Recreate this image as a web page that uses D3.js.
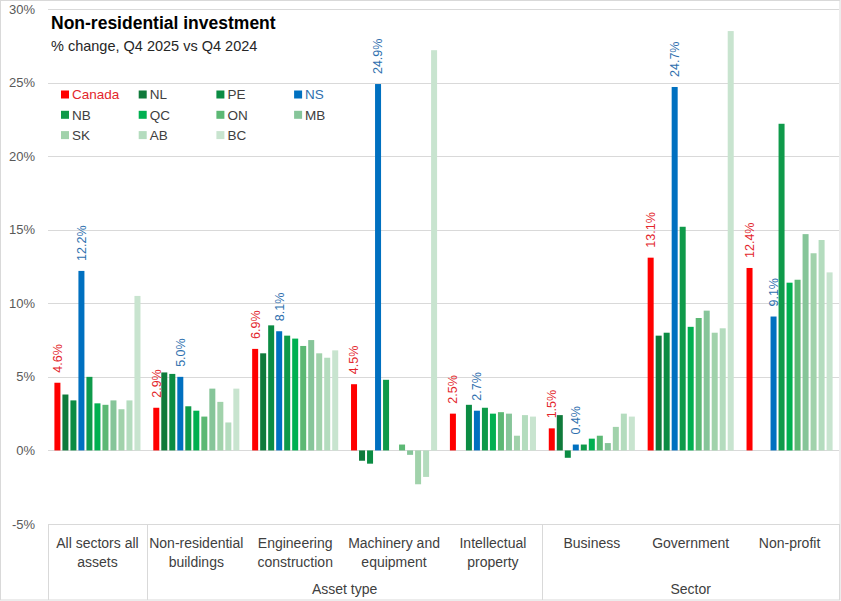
<!DOCTYPE html>
<html>
<head>
<meta charset="utf-8">
<script src="https://cdn.jsdelivr.net/npm/d3@7"></script>
<style>
  body { margin: 0; background: #fff; }
  svg { display: block; }
</style>
</head>
<body>
<svg id="chart"></svg>
<script>
// categories (two lines each, as shown under the axis)
const categories = ['All sectors all assets', 'Non-residential buildings', 'Engineering construction',
                    'Machinery and equipment', 'Intellectual property', 'Business', 'Government', 'Non-profit']
const category_lines = [['All sectors all', 'assets'], ['Non-residential', 'buildings'], ['Engineering', 'construction'],
                        ['Machinery and', 'equipment'], ['Intellectual', 'property'], ['Business'], ['Government'], ['Non-profit']]
// outer grouping of categories
const group_names = ['Asset type', 'Sector']
const group_first = [1, 5]
const group_last = [4, 7]

const series = ['Canada', 'NL', 'PE', 'NS', 'NB', 'QC', 'ON', 'MB', 'SK', 'AB', 'BC']
// % change, Q4 2025 vs Q4 2024, one value per category (null = no bar)
const canada = [4.6, 2.9, 6.9, 4.5, 2.5, 1.5, 13.1, 12.4]
const nl = [3.8, 5.3, 6.6, -0.7, null, 2.4, 7.8, null]
const pe = [3.4, 5.2, 8.5, -0.9, 3.1, -0.5, 8.0, null]
const ns = [12.2, 5.0, 8.1, 24.9, 2.7, 0.4, 24.7, 9.1]
const nb = [5.0, 3.0, 7.8, 4.8, 2.9, 0.4, 15.2, 22.2]
const qc = [3.2, 2.7, 7.6, null, 2.5, 0.8, 8.4, 11.4]
const on = [3.1, 2.3, 7.1, 0.4, 2.6, 1.0, 9.0, 11.6]
const mb = [3.4, 4.2, 7.5, -0.3, 2.5, 0.5, 9.5, 14.7]
const sk = [2.8, 3.3, 6.6, -2.3, 1.0, 1.6, 8.0, 13.4]
const ab = [3.4, 1.9, 6.3, -1.8, 2.4, 2.5, 8.3, 14.3]
const bc = [10.5, 4.2, 6.8, 27.2, 2.3, 2.3, 28.5, 12.1]
const y_ticks = [30, 25, 20, 15, 10, 5, 0, -5]

const values = [canada, nl, pe, ns, nb, qc, on, mb, sk, ab, bc]
const colors = ['#ff0000', '#0f7a3b', '#0b8c43', '#0070c0', '#0f9a4a', '#00b050',
                '#5cb874', '#86c599', '#a1d2ab', '#b4dcbe', '#c8e4cf']
// only these series get value labels
const labelled = {'Canada': '#e3262c', 'NS': '#2e6fae'}

const width = 841, height = 601
const plot_left = 48, plot_right = 839, plot_top = 9, plot_bottom = 524
const font = "'Liberation Sans', Arial, sans-serif"
const narrow = "'Liberation Sans Narrow', 'Liberation Sans', Arial, sans-serif"

const svg = d3.select('#chart')
              .attr('width', width)
              .attr('height', height)
              .attr('font-family', font)

// chart border
svg.append('rect')
   .attr('x', 0.5).attr('y', 0.5)
   .attr('width', width - 1.5).attr('height', height - 1.5)
   .attr('fill', '#fff')
   .attr('stroke', '#d9d9d9')

const y = d3.scaleLinear([-5, 30], [plot_bottom, plot_top])
const x0 = d3.scaleBand(categories, [plot_left, plot_right])
const x1 = d3.scaleBand(series, [0, x0.bandwidth()]).paddingInner(0.25).paddingOuter(0.8)

// gridlines + y labels
svg.append('g')
   .selectAll('line')
   .data(y_ticks)
   .join('line')
     .attr('x1', plot_left).attr('x2', plot_right)
     .attr('y1', d => Math.round(y(d)) + 0.5)
     .attr('y2', d => Math.round(y(d)) + 0.5)
     .attr('stroke', '#d9d9d9')
svg.append('g')
   .selectAll('text')
   .data(y_ticks)
   .join('text')
     .attr('x', 35)
     .attr('y', d => y(d))
     .attr('dy', '0.35em')
     .attr('text-anchor', 'end')
     .attr('font-size', 13)
     .attr('fill', '#595959')
     .text(d => `${d}%`)

// bars
const bar_rows = series.map((s, i) => categories.map((c, j) => ({s: s, c: c, v: values[i][j], color: colors[i]})))
                       .flat()
                       .filter(d => d.v !== null)
svg.append('g')
   .selectAll('rect')
   .data(bar_rows)
   .join('rect')
     .attr('x', d => x0(d.c) + x1(d.s))
     .attr('width', x1.bandwidth())
     .attr('y', d => y(Math.max(0, d.v)))
     .attr('height', d => Math.abs(y(d.v) - y(0)))
     .attr('fill', d => d.color)

// value labels, rotated, above Canada and NS bars
svg.append('g')
   .selectAll('text')
   .data(bar_rows.filter(d => labelled[d.s]))
   .join('text')
     .attr('transform', d => `translate(${x0(d.c) + x1(d.s) + x1.bandwidth() / 2},${y(d.v) - 10}) rotate(-90)`)
     .attr('dy', '0.35em')
     .attr('font-size', 12.5)
     .attr('fill', d => labelled[d.s])
     .text(d => `${d3.format('.1f')(d.v)}%`)

// category axis: separators, labels, group labels
const separators = [x0(categories[0]), x0(categories[group_first[0]]), x0(categories[group_first[1]]), plot_right]
svg.append('g')
   .selectAll('line')
   .data(separators)
   .join('line')
     .attr('x1', d => Math.round(d) + 0.5).attr('x2', d => Math.round(d) + 0.5)
     .attr('y1', plot_bottom).attr('y2', height - 1)
     .attr('stroke', '#d9d9d9')

const cat_labels = svg.append('g')
   .attr('font-family', narrow)
   .attr('font-size', 14)
   .attr('fill', '#404040')
   .attr('text-anchor', 'middle')
   .selectAll('text')
   .data(categories)
   .join('text')
     .attr('x', d => x0(d) + x0.bandwidth() / 2)
     .attr('y', 548)
cat_labels.selectAll('tspan')
   .data((d, i) => category_lines[i])
   .join('tspan')
     .attr('x', function() { return this.parentNode.getAttribute('x') })
     .attr('dy', (d, i) => i ? 19 : 0)
     .text(d => d)

svg.append('g')
   .attr('font-family', narrow)
   .attr('font-size', 14)
   .attr('fill', '#404040')
   .attr('text-anchor', 'middle')
   .selectAll('text')
   .data(group_names)
   .join('text')
     .attr('x', (d, i) => (x0(categories[group_first[i]]) + x0(categories[group_last[i]]) + x0.bandwidth()) / 2)
     .attr('y', 594)
     .text(d => d)

// title
svg.append('text')
   .attr('x', 51).attr('y', 29)
   .attr('font-size', 17.5)
   .attr('font-weight', 'bold')
   .attr('fill', '#000')
   .text('Non-residential investment')
svg.append('text')
   .attr('x', 51).attr('y', 51)
   .attr('font-size', 14.5)
   .attr('fill', '#262626')
   .text('% change, Q4 2025 vs Q4 2024')

// legend, 4 columns
const legend = svg.append('g')
   .selectAll('g')
   .data(series)
   .join('g')
     .attr('transform', (d, i) => `translate(${61 + (i % 4) * 77.7},${94.5 + Math.floor(i / 4) * 20.3})`)
legend.append('rect')
   .attr('x', 0).attr('y', -4).attr('width', 8).attr('height', 8)
   .attr('fill', (d, i) => colors[i])
legend.append('text')
   .attr('x', 11).attr('dy', '0.35em')
   .attr('font-size', 13.5)
   .attr('fill', d => labelled[d] || '#404040')
   .text(d => d)
</script>
</body>
</html>
